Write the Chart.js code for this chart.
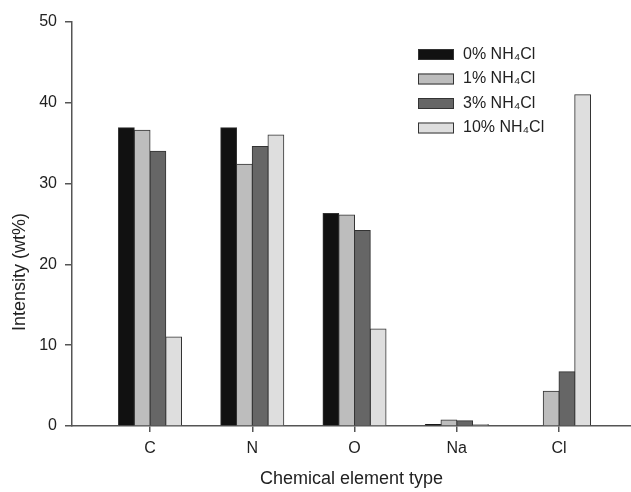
<!DOCTYPE html>
<html lang="en">
<head>
  <meta charset="UTF-8">
  <title>Chemical element intensity</title>
  <script src="https://cdn.jsdelivr.net/npm/chart.js"></script>
  <style>
    html, body {
      margin: 0;
      padding: 0;
      background: #fff;
    }
    #wrap {
      width: 631px;
      height: 492px;
    }
  </style>
</head>
<body>
  <div id="wrap"><canvas id="elemChart" width="631" height="492"></canvas></div>

  <script>
    const elements = ["C", "N", "O", "Na", "Cl"];
    const seriesNames = ["0% NH₄Cl", "1% NH₄Cl", "3% NH₄Cl", "10% NH₄Cl"];
    const nh4cl0 = [36.9, 36.9, 26.3, 0.2, 0];
    const nh4cl1 = [36.6, 32.4, 26.1, 0.75, 4.3];
    const nh4cl3 = [34.0, 34.6, 24.2, 0.65, 6.7];
    const nh4cl10 = [11.0, 36.0, 12.0, 0.2, 41.0];
    const yTicks = [0, 10, 20, 30, 40, 50];

    const fills = ["#111111", "#bdbdbd", "#666666", "#dedede"];
    const font = "'Liberation Sans', Arial, sans-serif";

    const allSeries = [nh4cl0, nh4cl1, nh4cl3, nh4cl10];
    const datasets = allSeries.map((vals, i) => ({
      label: seriesNames[i],
      data: vals.map((v, j) => ({ x: j + 1, y: v })),
      backgroundColor: fills[i],
      borderColor: "#333",
      borderWidth: 1,
      inflateAmount: 0.5,
      categoryPercentage: 0.616,
      barPercentage: 1.0
    }));

    // legend drawn inside the plot, top right, like the original figure
    const boxLegend = {
      id: "boxLegend",
      afterDraw(chart) {
        const ctx = chart.ctx;
        ctx.save();
        ctx.font = "16px " + font;
        ctx.textBaseline = "middle";
        chart.data.datasets.forEach((ds, i) => {
          const y = 54.5 + i * 24.5;
          ctx.fillStyle = ds.backgroundColor;
          ctx.fillRect(418, y - 5.5, 36, 11);
          ctx.strokeStyle = "#333";
          ctx.lineWidth = 1;
          ctx.strokeRect(418.5, y - 5, 35, 10);
          ctx.fillStyle = "#222";
          ctx.fillText(ds.label, 463, y);
        });
        ctx.restore();
      }
    };

    // y title sits a little below the axis centre in the original
    const yTitle = {
      id: "yTitle",
      afterDraw(chart) {
        const ctx = chart.ctx;
        ctx.save();
        ctx.translate(20, 272);
        ctx.rotate(-Math.PI / 2);
        ctx.font = "18px " + font;
        ctx.fillStyle = "#222";
        ctx.textAlign = "center";
        ctx.textBaseline = "middle";
        ctx.fillText("Intensity (wt%)", 0, 0);
        ctx.restore();
      }
    };

    new Chart(document.getElementById("elemChart"), {
      type: "bar",
      data: { datasets: datasets },
      plugins: [boxLegend, yTitle],
      options: {
        responsive: false,
        animation: false,
        layout: { padding: { top: 22, right: 0, left: 0, bottom: 0 } },
        plugins: {
          legend: { display: false },
          tooltip: { enabled: false }
        },
        scales: {
          x: {
            type: "linear",
            offset: false,
            min: 0.237,
            max: 5.704,
            afterFit: s => { s.height = 66; },
            afterBuildTicks: s => { s.ticks = elements.map((e, i) => ({ value: i + 1 })); },
            ticks: {
              callback: v => elements[v - 1],
              font: { size: 16, family: font },
              color: "#222",
              padding: 7,
              maxRotation: 0
            },
            grid: { offset: false, drawOnChartArea: false, tickLength: 6, color: "#555", lineWidth: 1.5 },
            border: { color: "#555", width: 1.5 },
            title: {
              display: true,
              text: "Chemical element type",
              font: { size: 18, family: font },
              color: "#222",
              padding: { top: 0, bottom: 2 }
            }
          },
          y: {
            min: 0,
            max: 50,
            afterFit: s => { s.width = 72; },
            afterBuildTicks: s => { s.ticks = yTicks.map(v => ({ value: v })); },
            ticks: {
              font: { size: 16, family: font },
              color: "#222",
              padding: 8
            },
            grid: { drawOnChartArea: false, tickLength: 7, color: "#555", lineWidth: 1.5 },
            border: { color: "#555", width: 1.5 }
          }
        }
      }
    });
  </script>
</body>
</html>
